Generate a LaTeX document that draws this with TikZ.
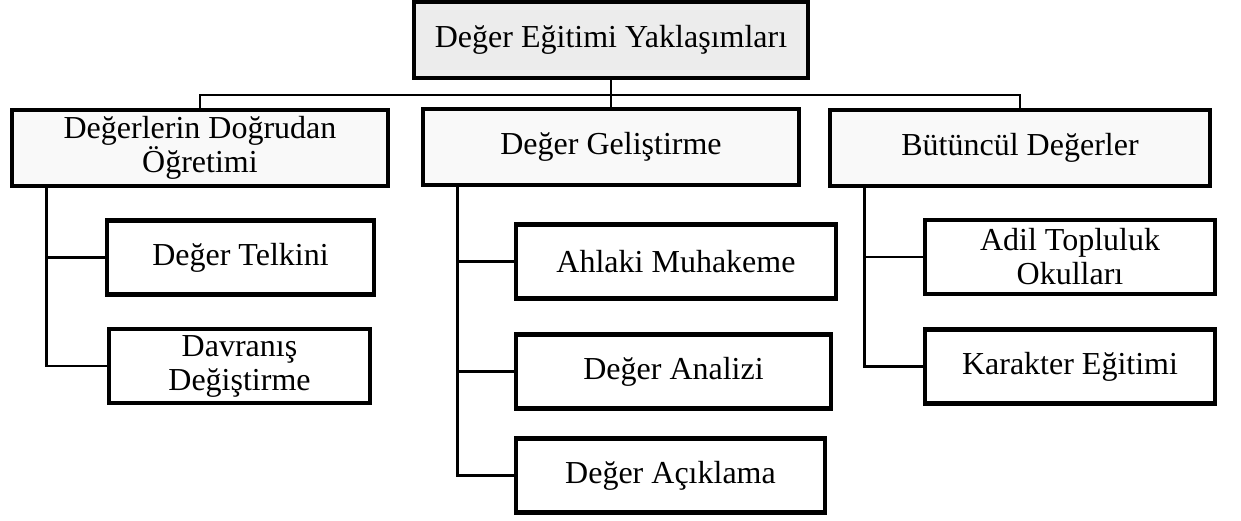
\documentclass[tikz,border=0pt]{standalone}
\usepackage{fontspec}
\setmainfont{Liberation Serif}
\tikzset{
  kutu/.style={draw,line width=2.2pt,align=center,inner sep=2pt,font=\fontsize{16}{17}\selectfont},
  ana/.style={kutu,fill=gray!15,minimum width=197pt,minimum height=38pt},
  grup/.style={kutu,fill=gray!5,minimum width=188pt,minimum height=38pt},
  alt/.style={kutu,fill=white,minimum height=37pt},
  bag/.style={line width=1.4pt}
}
\begin{document}
\begin{tikzpicture}[x=0.5pt,y=-0.5pt]
  \useasboundingbox (0,0) rectangle (1241,520);
  \node[ana] (kok) at (611,40) {Değer Eğitimi Yaklaşımları};
  \node[grup] (g1) at (200,148) {Değerlerin Doğrudan\\Öğretimi};
  \node[grup] (g2) at (611,147) {Değer Geliştirme};
  \node[grup,minimum width=190pt] (g3) at (1020,148) {Bütüncül Değerler};
  \node[alt,minimum width=133.5pt] (telkin) at (240.5,257.5) {Değer Telkini};
  \node[alt,minimum width=130.5pt] (davranis) at (239.5,366) {Davranış\\Değiştirme};
  \node[alt,minimum width=160pt] (ahlak) at (676,261.5) {Ahlaki Muhakeme};
  \node[alt,minimum width=157.5pt] (analiz) at (673.5,371.5) {Değer Analizi};
  \node[alt,minimum width=154.5pt] (aciklama) at (670.5,475.5) {Değer Açıklama};
  \node[alt,minimum width=145pt] (adil) at (1070,257) {Adil Topluluk\\Okulları};
  \node[alt,minimum width=145pt] (karakter) at (1070,366.5) {Karakter Eğitimi};
  \coordinate (bus) at (611,95);
  \draw[bag] (kok.south) -- (bus);
  \draw[bag] (g1.north) |- (bus) -| (g3.north);
  \draw[bag] (bus) -- (g2.north);
  \foreach \ust/\alt in {g1/telkin,g1/davranis,g2/ahlak,g2/analiz,g2/aciklama,g3/adil,g3/karakter}
    \draw[bag] (\alt.west) -| ([xshift=18.5pt]\ust.south west);
\end{tikzpicture}
\end{document}
